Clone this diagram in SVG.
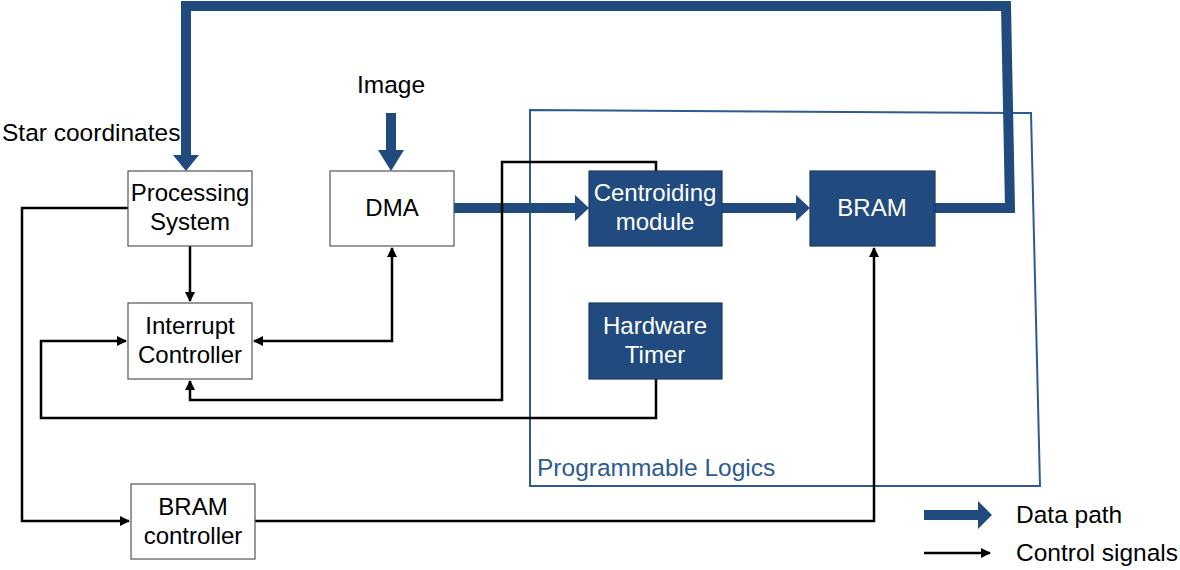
<svg xmlns="http://www.w3.org/2000/svg" width="1180" height="570" viewBox="0 0 1180 570">
<defs>
<style>
text{font-family:"Liberation Sans",Arial,sans-serif;font-size:24px;fill:#000}
.w{fill:#fff;text-anchor:middle}
.c{text-anchor:middle}
.lbl{font-size:24.5px}
.box{fill:#fff;stroke:#555;stroke-width:1.2}
.dbox{fill:#214A7E;stroke:#1a3a63;stroke-width:1.2}
.ctl{fill:none;stroke:#000;stroke-width:2.5}
.data{fill:none;stroke:#214A7E;stroke-width:10}
.plab{fill:#2D5A91}
</style>
<marker id="ah" viewBox="0 0 10 10" refX="9" refY="5" markerWidth="4" markerHeight="4" orient="auto-start-reverse" markerUnits="strokeWidth">
<path d="M0,0 L10,5 L0,10 z" fill="#000"/>
</marker>
</defs>
<rect width="1180" height="570" fill="#fff"/>

<g id="pl-region">
<polygon points="530,110 1031,113 1040,486 530,486" fill="none" stroke="#2D5A91" stroke-width="2"/>
<text class="plab lbl" x="537" y="476">Programmable Logics</text>
</g>

<g id="connectors">
<!-- data paths -->
<polyline class="data" points="935,208 1010,208 1006,6 186,6 186,157"/>
<polygon points="173,155 199,155 186,171" fill="#214A7E"/>
<line class="data" x1="391" y1="113" x2="391" y2="152"/>
<polygon points="378,150 404,150 391,171" fill="#214A7E"/>
<line class="data" x1="454" y1="208" x2="577" y2="208"/>
<polygon points="575,195 589,208 575,221" fill="#214A7E"/>
<line class="data" x1="722" y1="208" x2="798" y2="208"/>
<polygon points="796,195 810,208 796,221" fill="#214A7E"/>
<!-- control signals -->
<polyline class="ctl" points="128,208 22,208 22,521 129,521" marker-end="url(#ah)"/>
<polyline class="ctl" points="190,246 190,301" marker-end="url(#ah)"/>
<polyline class="ctl" points="254,341 392,341 392,248" marker-start="url(#ah)" marker-end="url(#ah)"/>
<polyline class="ctl" points="656,171 656,162 502,162 502,400 190,400 190,381" marker-end="url(#ah)"/>
<polyline class="ctl" points="656,379 656,418 41,418 41,341 126,341" marker-end="url(#ah)"/>
<polyline class="ctl" points="255,521 874,521 874,248" marker-end="url(#ah)"/>
</g>

<g id="ps">
<rect class="box" x="128" y="171" width="124" height="75"/>
<text class="c" x="190" y="201">Processing</text>
<text class="c" x="190" y="230">System</text>
</g>
<g id="dma">
<rect class="box" x="330" y="171" width="124" height="75"/>
<text class="c" x="392" y="216">DMA</text>
</g>
<g id="centroiding">
<rect class="dbox" x="589" y="171" width="133" height="75"/>
<text class="w" x="655" y="201">Centroiding</text>
<text class="w" x="655" y="230">module</text>
</g>
<g id="bram">
<rect class="dbox" x="810" y="171" width="125" height="75"/>
<text class="w" x="872" y="216">BRAM</text>
</g>
<g id="interrupt">
<rect class="box" x="128" y="303" width="124" height="76"/>
<text class="c" x="190" y="334">Interrupt</text>
<text class="c" x="190" y="363">Controller</text>
</g>
<g id="timer">
<rect class="dbox" x="589" y="303" width="133" height="76"/>
<text class="w" x="655" y="334">Hardware</text>
<text class="w" x="655" y="363">Timer</text>
</g>
<g id="bram-ctrl">
<rect class="box" x="131" y="484" width="124" height="75"/>
<text class="c" x="193" y="515">BRAM</text>
<text class="c" x="193" y="544">controller</text>
</g>

<g id="labels">
<text class="lbl" x="2" y="141">Star coordinates</text>
<text class="c lbl" x="391" y="93">Image</text>
</g>

<g id="legend">
<line x1="924" y1="515" x2="980" y2="515" stroke="#214A7E" stroke-width="10"/>
<polygon points="978,501 992,515 978,529" fill="#214A7E"/>
<text class="lbl" x="1016" y="523">Data path</text>
<line x1="924" y1="553" x2="990" y2="553" stroke="#000" stroke-width="2.5" marker-end="url(#ah)"/>
<text class="lbl" x="1016" y="561">Control signals</text>
</g>
</svg>
